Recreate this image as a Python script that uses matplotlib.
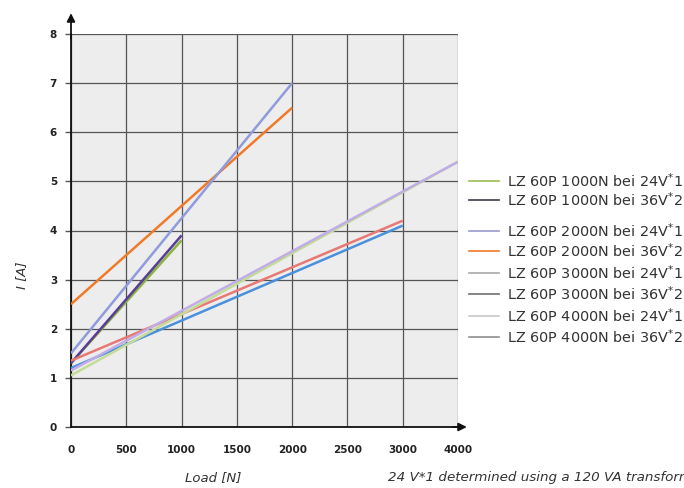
import numpy as np
import matplotlib
matplotlib.use('Agg')
import matplotlib.pyplot as plt
from matplotlib.lines import Line2D

# tick labels on the load axis are evenly spaced, but jump 3000 -> 4000
tick_loads = [0, 500, 1000, 1500, 2000, 2500, 3000, 4000]
y_ticks = [0, 1, 2, 3, 4, 5, 6, 7, 8]

series_names = [
    "LZ 60P 1000N bei 24V$^{*}$1",
    "LZ 60P 1000N bei 36V$^{*}$2",
    "LZ 60P 2000N bei 24V$^{*}$1",
    "LZ 60P 2000N bei 36V$^{*}$2",
    "LZ 60P 3000N bei 24V$^{*}$1",
    "LZ 60P 3000N bei 36V$^{*}$2",
    "LZ 60P 4000N bei 24V$^{*}$1",
    "LZ 60P 4000N bei 36V$^{*}$2",
]
max_load = [1000, 1000, 2000, 2000, 3000, 3000, 4000, 4000]
current_at_zero = [1.3, 1.3, 1.5, 2.5, 1.35, 1.2, 1.05, 1.15]
current_at_max = [3.8, 3.9, 7.0, 6.5, 4.2, 4.1, 5.4, 5.4]

line_colors = ['#8cb43c', '#5a3c9a', '#8f9bdc', '#f07a28',
               '#e87874', '#4a90dc', '#c4dc96', '#c0ace6']
legend_colors = ['#9cbc50', '#3a3a4a', '#9a9ad0', '#f07a28',
                 '#a8a8a8', '#707070', '#c8c8c8', '#909090']

positions = np.arange(len(tick_loads)) * 500


def to_pos(load):
    return np.interp(load, tick_loads, positions)


fig = plt.figure(figsize=(6.84, 4.88), dpi=100)
ax = fig.add_axes([71 / 684, 1 - 427 / 488, (458 - 71) / 684, (427 - 34) / 488])
ax.set_facecolor('#ededed')

# draw thick lines first, lighter ones after
order = [3, 2, 0, 1, 4, 5, 6, 7]
for i in order:
    x = to_pos(np.array([0, max_load[i]]))
    y = [current_at_zero[i], current_at_max[i]]
    ax.plot(x, y, color=line_colors[i], lw=1.8, solid_capstyle='butt', zorder=3)

ax.set_xlim(0, positions[-1])
ax.set_ylim(0, 8)
ax.set_xticks(positions)
ax.set_xticklabels([str(t) for t in tick_loads])
ax.set_yticks(y_ticks)
ax.grid(True, color='#555555', lw=0.9, zorder=1)
ax.set_axisbelow(True)
for s in ['top', 'right']:
    ax.spines[s].set_visible(False)
for s in ['left', 'bottom']:
    ax.spines[s].set_color('#111111')
    ax.spines[s].set_linewidth(1.3)
ax.tick_params(axis='x', length=0, pad=13, labelsize=7.5, colors='#222222')
ax.tick_params(axis='y', length=4, width=1, color='#555555', pad=6,
               labelsize=7.5, labelcolor='#222222')
for lab in ax.get_xticklabels() + ax.get_yticklabels():
    lab.set_fontweight('bold')

# axis arrows
ax.annotate('', xy=(0, 1.06), xytext=(0, 0.98), xycoords='axes fraction',
            arrowprops=dict(arrowstyle='-|>', color='#111111', lw=1.3,
                            mutation_scale=12), annotation_clip=False)
ax.annotate('', xy=(1.03, 0), xytext=(0.98, 0), xycoords='axes fraction',
            arrowprops=dict(arrowstyle='-|>', color='#111111', lw=1.3,
                            mutation_scale=12), annotation_clip=False)

fig.text(22 / 684, 1 - 275 / 488, 'I [A]', rotation=90, style='italic',
         fontsize=9.5, color='#333333', ha='center', va='center')
fig.text(213 / 684, 1 - 478 / 488, 'Load [N]', style='italic',
         fontsize=9.5, color='#333333', ha='center', va='center')
# the source image cuts this note off at its right edge
fig.text(388 / 684, 1 - 478 / 488, '24 V*1 determined using a 120 VA transformer',
         style='italic', fontsize=9.7, color='#333333', ha='left', va='center')

# legend, drawn by hand to keep the uneven spacing
row_y = [181, 200, 231, 251, 273, 294, 316, 337]
for name, c, yy in zip(series_names, legend_colors, row_y):
    yf = 1 - yy / 488
    fig.add_artist(Line2D([469 / 684, 499 / 684], [yf, yf], color=c, lw=1.2))
    fig.text(507 / 684, yf, name, fontsize=10.4, color='#333333', va='center',
             ha='left')

fig.savefig('out.png', dpi=100)
